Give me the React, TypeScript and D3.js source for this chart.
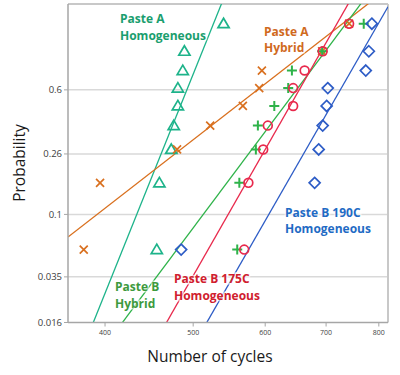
import React from "react";
import * as d3 from "d3";

// Cycles to failure for each series (sorted)
const cyclesAHom = [456, 459, 473, 476, 481, 481, 487, 489, 540];
const cyclesAHyb = [379, 395, 480, 522, 567, 591, 595, 693, 742];
const cyclesBHyb = [559, 562, 586, 589, 614, 636, 642, 693, 770];
const cyclesB175 = [569, 575, 597, 604, 644, 644, 663, 694, 742];
const cyclesB190 = [485, 680, 687, 694, 701, 703, 774, 780, 786];
// plotting positions (probability) shared by all series
const probs = [0.0556, 0.1667, 0.2778, 0.3889, 0.5, 0.6111, 0.7222, 0.8333, 0.9444];

// Weibull fit lines: shape (beta) and scale (eta)
const fitBeta = [17.05, 5.33, 9.17, 12.03, 11.95];
const fitEta = [494.6, 598, 655.6, 658.7, 731];

const seriesNames = ["Paste A Homogeneous", "Paste A Hybrid", "Paste B Hybrid", "Paste B 175C Homogeneous", "Paste B 190C Homogeneous"];

const yTicks = [0.6, 0.26, 0.1, 0.035, 0.016];
const yTickLabels = ["0.6", "0.26", "0.1", "0.035", "0.016"];
const xTicks = [400, 500, 600, 700, 800];

const W = 400, H = 375;
const L = 68, R = 388, T = 4, B = 322.5;

const wb = (p: number) => Math.log(-Math.log(1 - p));

export default function App() {
  const x = d3.scaleLog().domain([364.2, 818.8]).range([L, R]);
  const yLin = d3.scaleLinear().domain([wb(0.016), 1.4035]).range([B, T]);
  const y = (p: number) => yLin(wb(p));

  const series = [
    { data: cyclesAHom, marker: "tri", color: "#1db38a", beta: fitBeta[0], eta: fitEta[0] },
    { data: cyclesAHyb, marker: "x", color: "#d9701f", beta: fitBeta[1], eta: fitEta[1] },
    { data: cyclesBHyb, marker: "plus", color: "#2fb34a", beta: fitBeta[2], eta: fitEta[2] },
    { data: cyclesB175, marker: "circle", color: "#e8294c", beta: fitBeta[3], eta: fitEta[3] },
    { data: cyclesB190, marker: "diamond", color: "#2d5cc6", beta: fitBeta[4], eta: fitEta[4] },
  ];

  const markerPath: Record<string, string> = {
    tri: "M0,-5.5L5.6,4L-5.6,4Z",
    x: "M-4,-4L4,4M-4,4L4,-4",
    plus: "M-5,0L5,0M0,-5L0,5",
    diamond: "M0,-5.5L5.5,0L0,5.5L-5.5,0Z",
  };

  const [d0, d1] = x.domain();
  const lineGen = d3.line<[number, number]>().x(d => d[0]).y(d => d[1]);

  const labels = [
    { lines: ["Paste A", "Homogeneous"], x: 120, y: [23, 40], color: "#1a9e6e" },
    { lines: ["Paste A", "Hybrid"], x: 264, y: [36, 52], color: "#d06a1e" },
    { lines: ["Paste B", "Hybrid"], x: 115, y: [291, 307.5], color: "#3d9a3d" },
    { lines: ["Paste B 175C", "Homogeneous"], x: 174, y: [283, 299.5], color: "#d0202e" },
    { lines: ["Paste B 190C", "Homogeneous"], x: 285, y: [216.5, 233], color: "#1f6bc4" },
  ];

  return (
    <svg width={W} height={H} style={{ display: "block", position: "absolute", left: 0, top: 0, background: "#fff" }}
      fontFamily="'Open Sans', sans-serif">
      <defs>
        <clipPath id="plot"><rect x={L} y={T} width={R - L} height={B - T} /></clipPath>
      </defs>
      {/* gridlines */}
      {yTicks.slice(0, 4).map(p => (
        <line key={p} x1={L} x2={R} y1={y(p)} y2={y(p)} stroke="#d9d9d9" strokeWidth={1.5} />
      ))}
      {/* frame */}
      <line x1={L} x2={R} y1={T} y2={T} stroke="#c8c8c8" strokeWidth={2} />
      <line x1={R} x2={R} y1={T} y2={B} stroke="#c8c8c8" strokeWidth={2} />
      {/* fit lines */}
      <g clipPath="url(#plot)">
        {series.map((s, i) => {
          const pts: [number, number][] = [d0, d1].map(t => [x(t), yLin(s.beta * (Math.log(t) - Math.log(s.eta)))]);
          return <path key={i} d={lineGen(pts) || ""} fill="none" stroke={s.color} strokeWidth={1.3} />;
        })}
      </g>
      {/* axes */}
      <line x1={L} x2={L} y1={T} y2={B} stroke="#a6a6a6" strokeWidth={1.5} />
      <line x1={L} x2={R} y1={B} y2={B} stroke="#a6a6a6" strokeWidth={1.5} />
      {yTicks.map((p, i) => (
        <g key={p}>
          <line x1={L - 4} x2={L} y1={y(p)} y2={y(p)} stroke="#a6a6a6" strokeWidth={1} />
          <text x={L - 6} y={y(p)} dy="0.35em" textAnchor="end" fontSize={9.5} fill="#404040">{yTickLabels[i]}</text>
        </g>
      ))}
      {xTicks.map(t => (
        <g key={t}>
          <line x1={x(t)} x2={x(t)} y1={B} y2={B + 4} stroke="#a6a6a6" strokeWidth={1} />
          <text x={x(t)} y={B + 12} textAnchor="middle" fontSize={7} fill="#404040">{t}</text>
        </g>
      ))}
      {/* labels */}
      {labels.map((lb, i) => (
        <g key={i}>
          {lb.lines.map((txt, j) => (
            <text key={j} x={lb.x} y={lb.y[j]} fontSize={12} fontWeight={700} fill={lb.color}
              stroke="#ffffff" strokeWidth={3} strokeOpacity={0.6} style={{ paintOrder: "stroke" }}>{txt}</text>
          ))}
        </g>
      ))}
      {/* markers */}
      {series.map((s, i) => (
        <g key={i}>
          {s.data.map((c, j) => {
            const cx = x(c), cy = y(probs[j]);
            if (s.marker === "circle") {
              return <circle key={j} cx={cx} cy={cy} r={4.4} fill="none" stroke={s.color} strokeWidth={1.7} />;
            }
            return <path key={j} transform={`translate(${cx},${cy})`} d={markerPath[s.marker]} fill="none"
              stroke={s.color} strokeWidth={s.marker === "plus" ? 2 : 1.7} />;
          })}
        </g>
      ))}
      {/* axis titles */}
      <text x={210} y={362} textAnchor="middle" fontSize={15.5} fill="#1a1a1a">Number of cycles</text>
      <text transform={`translate(25,163) rotate(-90)`} textAnchor="middle" fontSize={15.5} fill="#1a1a1a">Probability</text>
    </svg>
  );
}
